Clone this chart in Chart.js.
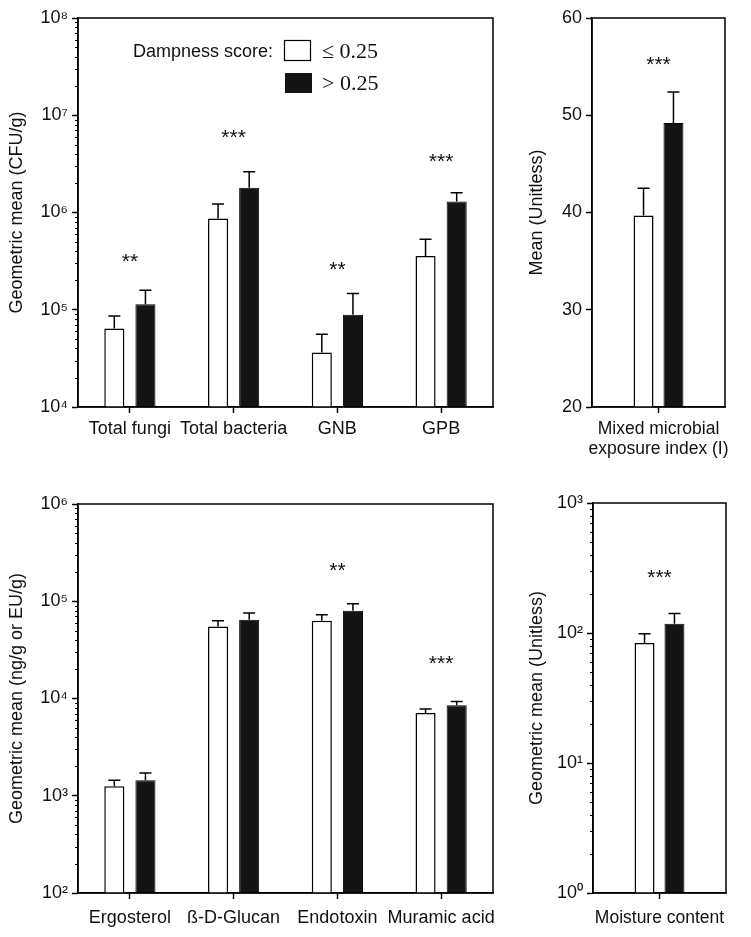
<!DOCTYPE html>
<html>
<head>
<meta charset="utf-8">
<script src="https://cdn.jsdelivr.net/npm/chart.js@4.4.1/dist/chart.umd.min.js"></script>
<style>
  html, body { margin: 0; padding: 0; background: #fff; }
  body { width: 751px; height: 937px; position: relative; overflow: hidden; }
  canvas { position: absolute; }
</style>
</head>
<body>
<canvas id="cfu" width="510" height="460" style="left:0;top:0"></canvas>
<canvas id="mix" width="231" height="460" style="left:520px;top:0"></canvas>
<canvas id="chem" width="510" height="477" style="left:0;top:460px"></canvas>
<canvas id="moist" width="231" height="477" style="left:520px;top:460px"></canvas>
<script>
// --- top left: culturable microbes (CFU/g), geometric means ---
const cfuCats = ['Total fungi', 'Total bacteria', 'GNB', 'GPB'];
const cfuLow = [64000, 870000, 36300, 356000];
const cfuLowErr = [86500, 1220000, 56000, 530000];
const cfuHigh = [114000, 1800000, 88600, 1300000];
const cfuHighErr = [159000, 2630000, 147000, 1600000];
const cfuStars = ['**', '***', '**', '***'];
const cfuStarAt = [348000, 6600000, 288000, 3760000];
const cfuTicks = [1e4, 1e5, 1e6, 1e7, 1e8];

// --- top right: mixed microbial exposure index ---
const mixCats = [['Mixed microbial', 'exposure index (I)']];
const mixLow = [39.7];
const mixLowErr = [42.5];
const mixHigh = [49.2];
const mixHighErr = [52.4];
const mixStars = ['***'];
const mixStarAt = [55.7];
const mixTicks = [20, 30, 40, 50, 60];

// --- bottom left: microbial agents ---
const chemCats = ['Ergosterol', 'ß-D-Glucan', 'Endotoxin', 'Muramic acid'];
const chemLow = [1250, 55100, 63000, 7100];
const chemLowErr = [1440, 63000, 72800, 7800];
const chemHigh = [1440, 64600, 80000, 8500];
const chemHighErr = [1710, 75700, 94400, 9330];
const chemStars = ['', '', '**', '***'];
const chemStarAt = [null, null, 228000, 25500];
const chemTicks = [1e2, 1e3, 1e4, 1e5, 1e6];

// --- bottom right: moisture content ---
const moistCats = ['Moisture content'];
const moistLow = [83.8];
const moistLowErr = [98.8];
const moistHigh = [118];
const moistHighErr = [141];
const moistStars = ['***'];
const moistStarAt = [290];
const moistTicks = [1, 10, 100, 1000];

const SANS = '"Liberation Sans", Arial, sans-serif';
const SUP = { '0': '\u2070', '1': '\u00B9', '2': '\u00B2', '3': '\u00B3', '4': '\u2074',
              '5': '\u2075', '6': '\u2076', '7': '\u2077', '8': '\u2078', '9': '\u2079' };
const pow10 = v => '10' + String(Math.round(Math.log10(v))).split('').map(c => SUP[c]).join('');

// error bars, frame, minor log ticks, significance stars (+ legend on first panel)
function decor(stars, starAt, withLegend) {
  return {
    id: 'decor',
    afterDatasetsDraw(chart) {
      const ctx = chart.ctx, y = chart.scales.y, x = chart.scales.x, a = chart.chartArea;
      ctx.save();
      ctx.strokeStyle = '#000';
      ctx.lineWidth = 1.5;
      chart.data.datasets.forEach((ds, di) => {
        chart.getDatasetMeta(di).data.forEach((bar, i) => {
          const top = y.getPixelForValue(ds.err[i]);
          ctx.beginPath();
          ctx.moveTo(bar.x, bar.y);
          ctx.lineTo(bar.x, top);
          ctx.moveTo(bar.x - 6, top);
          ctx.lineTo(bar.x + 6, top);
          ctx.stroke();
        });
      });
      ctx.strokeRect(a.left, a.top, a.right - a.left, a.bottom - a.top);

      if (y.type === 'logarithmic') {
        ctx.lineWidth = 1;
        ctx.beginPath();
        for (let e = Math.log10(y.min); e < Math.log10(y.max); e++) {
          for (let m = 2; m <= 9; m++) {
            const py = Math.round(y.getPixelForValue(m * Math.pow(10, e))) + 0.5;
            ctx.moveTo(a.left - 3, py);
            ctx.lineTo(a.left, py);
          }
        }
        ctx.stroke();
      }

      ctx.fillStyle = '#111';
      ctx.font = '21px ' + SANS;
      ctx.textAlign = 'center';
      ctx.textBaseline = 'alphabetic';
      stars.forEach((s, i) => {
        if (!s) return;
        ctx.fillText(s, x.getPixelForValue(i), y.getPixelForValue(starAt[i]) + 11);
      });

      if (withLegend) {
        ctx.textAlign = 'left';
        ctx.textBaseline = 'middle';
        ctx.font = '18px ' + SANS;
        ctx.fillText('Dampness score:', 133, 52);
        ctx.lineWidth = 1.2;
        ctx.strokeRect(284.5, 40.5, 26, 20);
        ctx.fillStyle = '#141414';
        ctx.fillRect(285, 73, 27, 20);
        ctx.fillStyle = '#111';
        ctx.font = '22px "Liberation Serif", "Times New Roman", serif';
        ctx.fillText('\u2264 0.25', 322, 52);
        ctx.fillText('> 0.25', 322, 84);
      }
      ctx.restore();
    }
  };
}

function panel(id, cfg) {
  const log = cfg.log;
  new Chart(document.getElementById(id), {
    type: 'bar',
    data: {
      labels: cfg.cats,
      datasets: [
        { label: '\u2264 0.25', data: cfg.low, err: cfg.lowErr,
          backgroundColor: '#fff', borderColor: '#000', borderWidth: 1.5 },
        { label: '> 0.25', data: cfg.high, err: cfg.highErr,
          backgroundColor: '#141414', borderColor: '#000', borderWidth: 1 }
      ]
    },
    options: {
      responsive: false,
      animation: false,
      layout: { padding: cfg.pad },
      datasets: { bar: { categoryPercentage: cfg.catPct, barPercentage: cfg.barPct } },
      plugins: { legend: { display: false }, tooltip: { enabled: false } },
      scales: {
        x: {
          offset: true,
          grid: { offset: false, drawOnChartArea: false, tickLength: 6, tickColor: '#000', tickWidth: 1.5 },
          border: { color: '#000', width: 1.5 },
          ticks: { color: '#111', padding: cfg.xPad, font: { family: SANS, size: cfg.catSize, lineHeight: 1.15 },
                   maxRotation: 0, autoSkip: false },
          afterFit: s => { s.height = cfg.xHeight; }
        },
        y: {
          type: log ? 'logarithmic' : 'linear',
          min: cfg.ticks[0],
          max: cfg.ticks[cfg.ticks.length - 1],
          grid: { drawOnChartArea: false, tickLength: 6, tickColor: '#000', tickWidth: 1.5 },
          border: { color: '#000', width: 1.5 },
          afterBuildTicks: s => { s.ticks = cfg.ticks.map(v => ({ value: v })); },
          ticks: {
            color: '#111', padding: 4, font: { family: SANS, size: 18 },
            callback: v => log ? pow10(v) : String(v)
          },
          title: { display: true, text: cfg.yTitle, color: '#111', padding: { top: 6, bottom: 0 },
                   font: { family: SANS, size: 18 } },
          afterFit: s => { s.width = cfg.yWidth; }
        }
      }
    },
    plugins: [decor(cfg.stars, cfg.starAt, cfg.legend)]
  });
}

panel('cfu', {
  cats: cfuCats, low: cfuLow, lowErr: cfuLowErr, high: cfuHigh, highErr: cfuHighErr,
  stars: cfuStars, starAt: cfuStarAt, ticks: cfuTicks, log: true, legend: true,
  yTitle: 'Geometric mean (CFU/g)', yWidth: 78, xHeight: 53, xPad: 6,
  pad: { top: 18, right: 17, left: 0, bottom: 0 }, catPct: 0.6, barPct: 0.645, catSize: 18
});
panel('mix', {
  cats: mixCats, low: mixLow, lowErr: mixLowErr, high: mixHigh, highErr: mixHighErr,
  stars: mixStars, starAt: mixStarAt, ticks: mixTicks, log: false,
  yTitle: 'Mean (Unitless)', yWidth: 72, xHeight: 53, xPad: 6,
  pad: { top: 18, right: 26, left: 0, bottom: 0 }, catPct: 0.45, barPct: 0.667, catSize: 17.5
});
panel('chem', {
  cats: chemCats, low: chemLow, lowErr: chemLowErr, high: chemHigh, highErr: chemHighErr,
  stars: chemStars, starAt: chemStarAt, ticks: chemTicks, log: true,
  yTitle: 'Geometric mean (ng/g or EU/g)', yWidth: 78, xHeight: 44, xPad: 9,
  pad: { top: 44, right: 17, left: 0, bottom: 0 }, catPct: 0.6, barPct: 0.645, catSize: 18
});
panel('moist', {
  cats: moistCats, low: moistLow, lowErr: moistLowErr, high: moistHigh, highErr: moistHighErr,
  stars: moistStars, starAt: moistStarAt, ticks: moistTicks, log: true,
  yTitle: 'Geometric mean (Unitless)', yWidth: 73, xHeight: 44, xPad: 9,
  pad: { top: 43, right: 25, left: 0, bottom: 0 }, catPct: 0.45, barPct: 0.667, catSize: 17.5
});
</script>
</body>
</html>
